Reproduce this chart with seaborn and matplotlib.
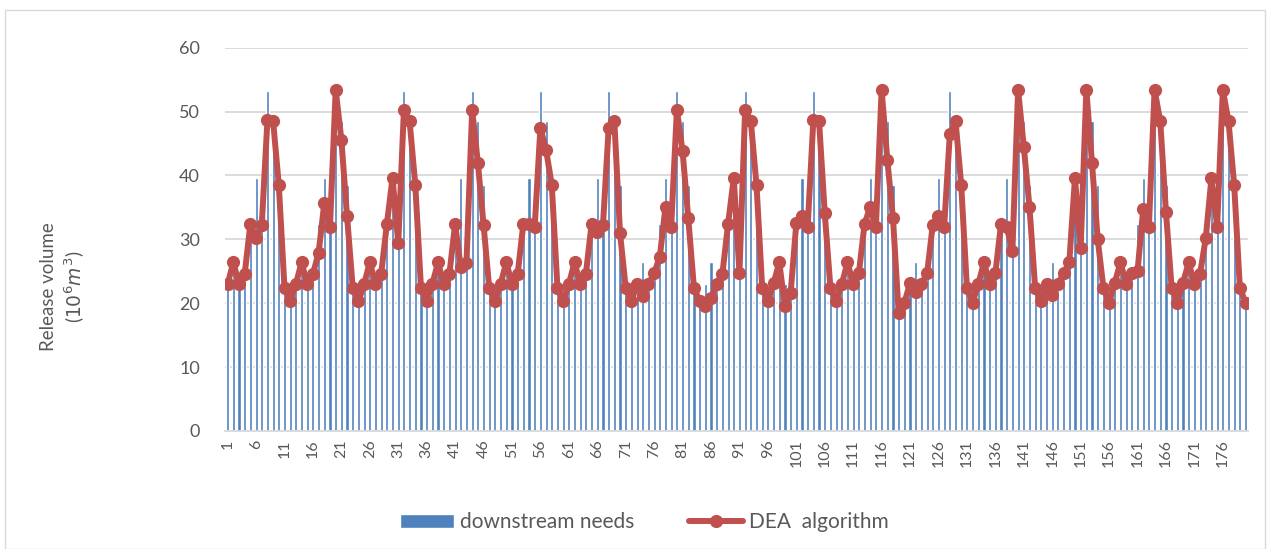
import numpy as np
import pandas as pd
import seaborn as sns
import matplotlib.pyplot as plt
from matplotlib.patches import Rectangle

# monthly release, 15 years x 12 months (10^6 m3)
downstream_needs = [
    23.0, 26.4, 23.0, 24.7, 32.4, 39.6, 32.2, 53.3, 48.5, 38.5, 22.4, 20.3,
    23.0, 26.4, 23.0, 24.7, 32.4, 39.6, 32.2, 53.3, 48.5, 38.5, 22.4, 20.3,
    23.0, 26.4, 23.0, 24.7, 32.4, 39.6, 32.2, 53.3, 48.5, 38.5, 22.4, 20.3,
    23.0, 26.4, 23.0, 24.7, 32.4, 39.6, 32.2, 53.3, 48.5, 38.5, 22.4, 20.3,
    23.0, 26.4, 23.0, 24.7, 32.4, 39.6, 32.2, 53.3, 48.5, 38.5, 22.4, 20.3,
    23.0, 26.4, 23.0, 24.7, 32.4, 39.6, 32.2, 53.3, 48.5, 38.5, 22.4, 20.3,
    23.0, 26.4, 23.0, 24.7, 32.4, 39.6, 32.2, 53.3, 48.5, 38.5, 22.4, 20.3,
    23.0, 26.4, 23.0, 24.7, 32.4, 39.6, 32.2, 53.3, 48.5, 38.5, 22.4, 20.3,
    23.0, 26.4, 23.0, 24.7, 32.4, 39.6, 32.2, 53.3, 48.5, 38.5, 22.4, 20.3,
    23.0, 26.4, 23.0, 24.7, 32.4, 39.6, 32.2, 53.3, 48.5, 38.5, 22.4, 20.3,
    23.0, 26.4, 23.0, 24.7, 32.4, 39.6, 32.2, 53.3, 48.5, 38.5, 22.4, 20.3,
    23.0, 26.4, 23.0, 24.7, 32.4, 39.6, 32.2, 53.3, 48.5, 38.5, 22.4, 20.3,
    23.0, 26.4, 23.0, 24.7, 32.4, 39.6, 32.2, 53.3, 48.5, 38.5, 22.4, 20.3,
    23.0, 26.4, 23.0, 24.7, 32.4, 39.6, 32.2, 53.3, 48.5, 38.5, 22.4, 20.3,
    23.0, 26.4, 23.0, 24.7, 32.4, 39.6, 32.2, 53.3, 48.5, 38.5, 22.4, 20.3,
]

dea_algorithm = [
    23.0, 26.4, 23.0, 24.6, 32.4, 30.2, 32.2, 48.7, 48.5, 38.5, 22.4, 20.3,
    23.0, 26.4, 23.0, 24.6, 27.9, 35.7, 32.0, 53.4, 45.6, 33.6, 22.4, 20.3,
    23.0, 26.4, 23.0, 24.6, 32.4, 39.6, 29.4, 50.3, 48.5, 38.5, 22.4, 20.3,
    23.0, 26.4, 23.0, 24.6, 32.4, 25.6, 26.3, 50.3, 42.0, 32.3, 22.4, 20.3,
    23.0, 26.4, 23.0, 24.6, 32.4, 32.4, 32.0, 47.5, 44.0, 38.5, 22.4, 20.3,
    23.0, 26.4, 23.0, 24.6, 32.4, 31.2, 32.2, 47.4, 48.5, 31.0, 22.4, 20.3,
    23.0, 21.1, 23.0, 24.7, 27.3, 35.1, 32.0, 50.3, 43.8, 33.3, 22.4, 20.3,
    19.5, 20.8, 23.0, 24.6, 32.4, 39.6, 24.8, 50.3, 48.5, 38.5, 22.4, 20.3,
    23.1, 26.4, 19.5, 21.6, 32.5, 33.6, 32.0, 48.7, 48.5, 34.1, 22.4, 20.3,
    23.0, 26.4, 23.0, 24.7, 32.4, 35.1, 32.0, 53.4, 42.5, 33.3, 18.4, 20.1,
    23.1, 21.8, 23.0, 24.7, 32.3, 33.6, 32.0, 46.5, 48.5, 38.5, 22.4, 20.1,
    23.0, 26.4, 23.0, 24.7, 32.4, 32.0, 28.1, 53.4, 44.5, 35.1, 22.4, 20.3,
    23.0, 21.3, 23.0, 24.7, 26.4, 39.6, 28.6, 53.4, 41.9, 30.0, 22.4, 20.1,
    23.2, 26.4, 23.0, 24.7, 25.0, 34.7, 32.0, 53.4, 48.5, 34.3, 22.4, 20.1,
    23.2, 26.4, 23.0, 24.6, 30.2, 39.6, 32.0, 53.4, 48.5, 38.5, 22.4, 20.1,
]

months = list(range(1, 181))
tick_labels = [str(m) for m in months[::5]]

df = pd.DataFrame({"month": months, "needs": downstream_needs, "dea": dea_algorithm})
df["pos"] = np.arange(len(df))

sns.set_style("white")
plt.rcParams["font.family"] = ["Lato", "DejaVu Sans"]
grey = "#595959"

fig = plt.figure(figsize=(12.7, 5.49), dpi=100)
ax = fig.add_axes([0.177, 0.215, 0.806, 0.698])

sns.barplot(data=df, x="month", y="needs", color="#4F81BD", saturation=1,
            width=0.55, label="downstream needs", ax=ax, zorder=2)
sns.lineplot(data=df, x="pos", y="dea", color="#C0504D", lw=4.3, marker="o",
             markersize=9.5, markeredgewidth=0, label="DEA  algorithm",
             ax=ax, zorder=3)

ax.set_ylim(0, 60)
ax.set_yticks(range(0, 61, 10))
ax.set_xlim(-0.5, 179.5)
ax.set_xticks(df["pos"][::5])
ax.set_xticklabels(tick_labels, rotation=90)
ax.tick_params(axis="x", labelsize=11.5, colors=grey, length=0, pad=6)
ax.tick_params(axis="y", labelsize=13, colors=grey, length=0, pad=18)
ax.grid(axis="y", color="#d9d9d9", lw=1.3, zorder=0)
ax.set_axisbelow(True)
for s in ["top", "right", "left"]:
    ax.spines[s].set_visible(False)
ax.spines["bottom"].set_color("#d9d9d9")
ax.spines["bottom"].set_linewidth(1.3)
ax.set_xlabel("")
ax.set_ylabel("Release volume\n($10^6m^3$)", fontsize=13.5, color=grey,
              linespacing=1.3)
ax.yaxis.set_label_coords(-0.135, 0.376)

# bars first in the legend, like the original
handles, labels = ax.get_legend_handles_labels()
order = [labels.index("downstream needs"), labels.index("DEA  algorithm")]
ax.legend([handles[i] for i in order], [labels[i] for i in order],
          loc="center", bbox_to_anchor=(0.41, -0.238), ncol=2, frameon=False,
          fontsize=15, labelcolor=grey, handlelength=2.6, columnspacing=2.6,
          handletextpad=0.3)

fig.patches.append(Rectangle((0.004, 0.0), 0.992, 0.982, transform=fig.transFigure,
                             fill=False, edgecolor="#d9d9d9", lw=1))

fig.savefig("out.png", dpi=100)
